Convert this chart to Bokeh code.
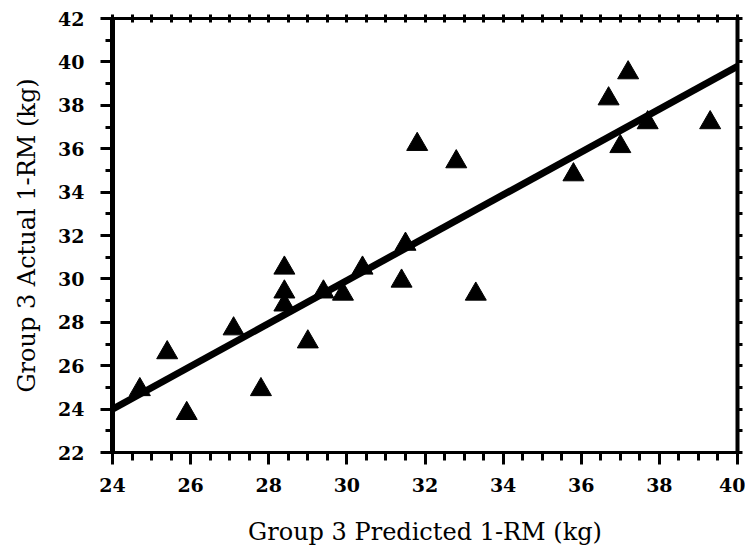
import numpy as np
from bokeh.plotting import figure
from bokeh.models import Range1d, LinearAxis, FixedTicker
from bokeh.embed import file_html
from bokeh.resources import INLINE

# Data
predicted = [24.7, 25.4, 25.9, 27.1, 27.8, 28.4, 28.4, 28.4, 29.0, 29.4, 29.9, 30.4,
             31.5, 31.4, 31.8, 32.8, 33.3, 35.8, 36.7, 37.0, 37.2, 37.7, 39.3]
actual = [24.9, 26.6, 23.8, 27.7, 24.9, 30.5, 29.4, 28.8, 27.1, 29.4, 29.3, 30.5,
          31.6, 29.9, 36.2, 35.4, 29.3, 34.8, 38.3, 36.1, 39.5, 37.2, 37.2]
fit_x = [24, 40]
fit_y = [24.0, 39.8]

x_ticks = [24, 26, 28, 30, 32, 34, 36, 38, 40]
y_ticks = [22, 24, 26, 28, 30, 32, 34, 36, 38, 40, 42]
x_minor = list(np.arange(24, 40.01, 0.5))
y_minor = list(np.arange(22, 42.01, 1.0))

SERIF = "DejaVu Serif"

p = figure(frame_width=625, frame_height=434,
           min_border_left=112, min_border_right=8,
           min_border_top=18, min_border_bottom=94,
           x_range=Range1d(24, 40), y_range=Range1d(22, 42),
           output_backend="svg", toolbar_location=None,
           x_axis_label="Group 3 Predicted 1-RM (kg)",
           y_axis_label="Group 3 Actual 1-RM (kg)")
p.background_fill_color = "white"
p.border_fill_color = "white"
p.outline_line_color = None
p.xgrid.visible = False
p.ygrid.visible = False

xt = FixedTicker(ticks=x_ticks, minor_ticks=x_minor)
yt = FixedTicker(ticks=y_ticks, minor_ticks=y_minor)

# bottom axis
xa = p.xaxis[0]
xa.ticker = xt
xa.axis_line_width = 3
xa.axis_line_color = "black"
xa.major_tick_in = 0
xa.major_tick_out = 12
xa.minor_tick_in = 0
xa.minor_tick_out = 8
xa.major_tick_line_width = 3
xa.minor_tick_line_width = 3
xa.major_label_standoff = 13
xa.major_label_text_font = SERIF
xa.major_label_text_font_style = "bold"
xa.major_label_text_font_size = "19px"
xa.major_label_text_color = "black"
xa.axis_label_text_font = SERIF
xa.axis_label_text_font_style = "normal"
xa.axis_label_text_font_size = "24px"
xa.axis_label_text_color = "black"
xa.axis_label_standoff = 23

# left axis
ya = p.yaxis[0]
ya.ticker = yt
ya.axis_line_width = 5
ya.axis_line_color = "black"
ya.major_tick_in = 0
ya.major_tick_out = 12
ya.minor_tick_in = 0
ya.minor_tick_out = 7
ya.major_tick_line_width = 3
ya.minor_tick_line_width = 3
ya.major_label_standoff = 16
ya.major_label_text_font = SERIF
ya.major_label_text_font_style = "bold"
ya.major_label_text_font_size = "19px"
ya.major_label_text_color = "black"
ya.axis_label_text_font = SERIF
ya.axis_label_text_font_style = "normal"
ya.axis_label_text_font_size = "24px"
ya.axis_label_text_color = "black"
ya.axis_label_standoff = 14

# top axis (tick marks only)
ta = LinearAxis(ticker=FixedTicker(ticks=[], minor_ticks=x_minor))
ta.axis_line_width = 3
ta.minor_tick_in = 4
ta.minor_tick_out = 4
ta.minor_tick_line_width = 3
p.add_layout(ta, "above")

# right axis (tick marks only)
ra = LinearAxis(ticker=FixedTicker(ticks=[], minor_ticks=y_minor))
ra.axis_line_width = 4
ra.minor_tick_in = 0
ra.minor_tick_out = 5
ra.minor_tick_line_width = 3
p.add_layout(ra, "right")

p.line(fit_x, fit_y, line_width=7, line_color="black")
p.scatter(predicted, actual, marker="triangle", size=21,
          fill_color="black", line_color="black", line_width=1)

open("out.html", "w").write(file_html(p, INLINE))
